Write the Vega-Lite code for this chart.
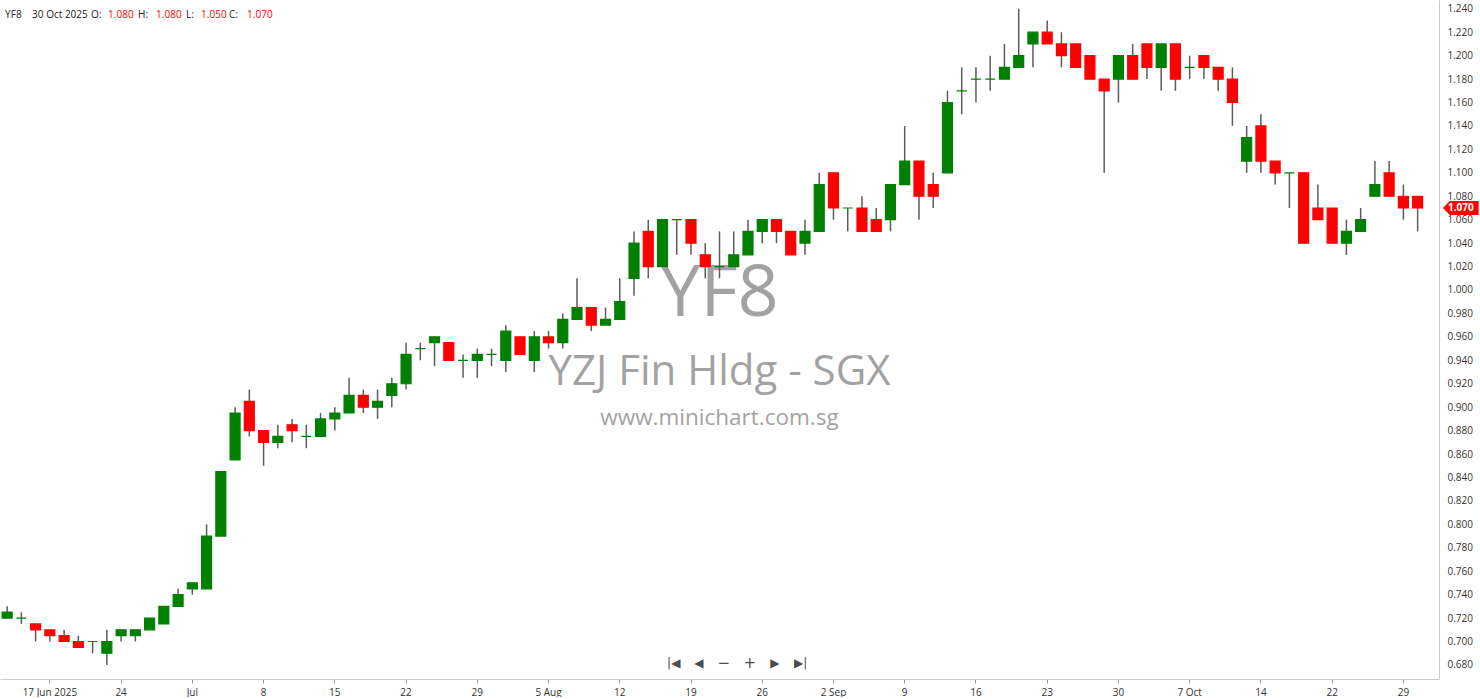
{
  "$schema": "https://vega.github.io/schema/vega-lite/v6.json",
  "width": 1439,
  "height": 679,
  "padding": 0,
  "background": "white",
  "config": {"view": {"stroke": null}, "font": "Open Sans", "axis": {"labelOverlap": false}, "axisY": {"labelOverlap": false, "labelSeparation": 0, "tickCount": 29}},
  "data": {"values": [
    {"d":"2025-06-12","o":0.72,"h":0.73,"l":0.72,"c":0.725},
    {"d":"2025-06-13","o":0.72,"h":0.725,"l":0.715,"c":0.72},
    {"d":"2025-06-16","o":0.715,"h":0.715,"l":0.70,"c":0.71},
    {"d":"2025-06-17","o":0.71,"h":0.71,"l":0.70,"c":0.705},
    {"d":"2025-06-18","o":0.705,"h":0.71,"l":0.70,"c":0.70},
    {"d":"2025-06-19","o":0.70,"h":0.705,"l":0.695,"c":0.695},
    {"d":"2025-06-20","o":0.70,"h":0.70,"l":0.69,"c":0.70},
    {"d":"2025-06-23","o":0.69,"h":0.71,"l":0.68,"c":0.70},
    {"d":"2025-06-24","o":0.705,"h":0.71,"l":0.70,"c":0.71},
    {"d":"2025-06-25","o":0.705,"h":0.71,"l":0.70,"c":0.71},
    {"d":"2025-06-26","o":0.71,"h":0.72,"l":0.71,"c":0.72},
    {"d":"2025-06-27","o":0.715,"h":0.73,"l":0.715,"c":0.73},
    {"d":"2025-06-30","o":0.73,"h":0.745,"l":0.73,"c":0.74},
    {"d":"2025-07-01","o":0.745,"h":0.75,"l":0.74,"c":0.75},
    {"d":"2025-07-02","o":0.745,"h":0.80,"l":0.745,"c":0.79},
    {"d":"2025-07-03","o":0.79,"h":0.845,"l":0.79,"c":0.845},
    {"d":"2025-07-04","o":0.855,"h":0.90,"l":0.855,"c":0.895},
    {"d":"2025-07-07","o":0.905,"h":0.915,"l":0.875,"c":0.88},
    {"d":"2025-07-08","o":0.88,"h":0.88,"l":0.85,"c":0.87},
    {"d":"2025-07-09","o":0.87,"h":0.885,"l":0.865,"c":0.875},
    {"d":"2025-07-10","o":0.885,"h":0.89,"l":0.87,"c":0.88},
    {"d":"2025-07-11","o":0.875,"h":0.885,"l":0.865,"c":0.875},
    {"d":"2025-07-14","o":0.875,"h":0.895,"l":0.875,"c":0.89},
    {"d":"2025-07-15","o":0.89,"h":0.90,"l":0.88,"c":0.895},
    {"d":"2025-07-16","o":0.895,"h":0.925,"l":0.895,"c":0.91},
    {"d":"2025-07-17","o":0.91,"h":0.915,"l":0.895,"c":0.90},
    {"d":"2025-07-18","o":0.90,"h":0.915,"l":0.89,"c":0.905},
    {"d":"2025-07-21","o":0.91,"h":0.925,"l":0.90,"c":0.92},
    {"d":"2025-07-22","o":0.92,"h":0.955,"l":0.915,"c":0.945},
    {"d":"2025-07-23","o":0.95,"h":0.955,"l":0.94,"c":0.95},
    {"d":"2025-07-24","o":0.955,"h":0.96,"l":0.935,"c":0.96},
    {"d":"2025-07-25","o":0.955,"h":0.955,"l":0.94,"c":0.94},
    {"d":"2025-07-28","o":0.94,"h":0.945,"l":0.925,"c":0.94},
    {"d":"2025-07-29","o":0.94,"h":0.95,"l":0.925,"c":0.945},
    {"d":"2025-07-30","o":0.945,"h":0.95,"l":0.935,"c":0.945},
    {"d":"2025-07-31","o":0.94,"h":0.97,"l":0.93,"c":0.965},
    {"d":"2025-08-01","o":0.96,"h":0.96,"l":0.945,"c":0.945},
    {"d":"2025-08-04","o":0.94,"h":0.965,"l":0.93,"c":0.96},
    {"d":"2025-08-05","o":0.96,"h":0.965,"l":0.95,"c":0.955},
    {"d":"2025-08-06","o":0.955,"h":0.98,"l":0.95,"c":0.975},
    {"d":"2025-08-07","o":0.975,"h":1.01,"l":0.975,"c":0.985},
    {"d":"2025-08-08","o":0.985,"h":0.985,"l":0.965,"c":0.97},
    {"d":"2025-08-11","o":0.97,"h":0.985,"l":0.97,"c":0.975},
    {"d":"2025-08-12","o":0.975,"h":1.01,"l":0.975,"c":0.99},
    {"d":"2025-08-13","o":1.01,"h":1.05,"l":0.995,"c":1.04},
    {"d":"2025-08-14","o":1.05,"h":1.06,"l":1.01,"c":1.02},
    {"d":"2025-08-15","o":1.02,"h":1.06,"l":1.02,"c":1.06},
    {"d":"2025-08-18","o":1.06,"h":1.06,"l":1.03,"c":1.06},
    {"d":"2025-08-19","o":1.06,"h":1.06,"l":1.03,"c":1.04},
    {"d":"2025-08-20","o":1.03,"h":1.04,"l":1.01,"c":1.02},
    {"d":"2025-08-21","o":1.02,"h":1.05,"l":1.01,"c":1.02},
    {"d":"2025-08-22","o":1.02,"h":1.05,"l":1.02,"c":1.03},
    {"d":"2025-08-25","o":1.03,"h":1.06,"l":1.03,"c":1.05},
    {"d":"2025-08-26","o":1.05,"h":1.06,"l":1.04,"c":1.06},
    {"d":"2025-08-27","o":1.06,"h":1.06,"l":1.04,"c":1.05},
    {"d":"2025-08-28","o":1.05,"h":1.05,"l":1.03,"c":1.03},
    {"d":"2025-08-29","o":1.04,"h":1.06,"l":1.03,"c":1.05},
    {"d":"2025-09-01","o":1.05,"h":1.10,"l":1.05,"c":1.09},
    {"d":"2025-09-02","o":1.10,"h":1.10,"l":1.06,"c":1.07},
    {"d":"2025-09-03","o":1.07,"h":1.07,"l":1.05,"c":1.07},
    {"d":"2025-09-04","o":1.07,"h":1.08,"l":1.05,"c":1.05},
    {"d":"2025-09-05","o":1.06,"h":1.07,"l":1.05,"c":1.05},
    {"d":"2025-09-08","o":1.06,"h":1.09,"l":1.05,"c":1.09},
    {"d":"2025-09-09","o":1.09,"h":1.14,"l":1.09,"c":1.11},
    {"d":"2025-09-10","o":1.11,"h":1.11,"l":1.06,"c":1.08},
    {"d":"2025-09-11","o":1.09,"h":1.10,"l":1.07,"c":1.08},
    {"d":"2025-09-12","o":1.10,"h":1.17,"l":1.10,"c":1.16},
    {"d":"2025-09-15","o":1.17,"h":1.19,"l":1.15,"c":1.17},
    {"d":"2025-09-16","o":1.18,"h":1.19,"l":1.16,"c":1.18},
    {"d":"2025-09-17","o":1.18,"h":1.20,"l":1.17,"c":1.18},
    {"d":"2025-09-18","o":1.18,"h":1.21,"l":1.18,"c":1.19},
    {"d":"2025-09-19","o":1.19,"h":1.24,"l":1.19,"c":1.20},
    {"d":"2025-09-22","o":1.21,"h":1.22,"l":1.19,"c":1.22},
    {"d":"2025-09-23","o":1.22,"h":1.23,"l":1.21,"c":1.21},
    {"d":"2025-09-24","o":1.21,"h":1.22,"l":1.19,"c":1.20},
    {"d":"2025-09-25","o":1.21,"h":1.21,"l":1.19,"c":1.19},
    {"d":"2025-09-26","o":1.20,"h":1.20,"l":1.18,"c":1.18},
    {"d":"2025-09-29","o":1.18,"h":1.18,"l":1.10,"c":1.17},
    {"d":"2025-09-30","o":1.18,"h":1.20,"l":1.16,"c":1.20},
    {"d":"2025-10-01","o":1.20,"h":1.21,"l":1.18,"c":1.18},
    {"d":"2025-10-02","o":1.21,"h":1.21,"l":1.18,"c":1.19},
    {"d":"2025-10-03","o":1.19,"h":1.21,"l":1.17,"c":1.21},
    {"d":"2025-10-06","o":1.21,"h":1.21,"l":1.17,"c":1.18},
    {"d":"2025-10-07","o":1.19,"h":1.20,"l":1.18,"c":1.19},
    {"d":"2025-10-08","o":1.20,"h":1.20,"l":1.18,"c":1.19},
    {"d":"2025-10-09","o":1.19,"h":1.19,"l":1.17,"c":1.18},
    {"d":"2025-10-10","o":1.18,"h":1.19,"l":1.14,"c":1.16},
    {"d":"2025-10-13","o":1.11,"h":1.14,"l":1.10,"c":1.13},
    {"d":"2025-10-14","o":1.14,"h":1.15,"l":1.10,"c":1.11},
    {"d":"2025-10-15","o":1.11,"h":1.11,"l":1.09,"c":1.10},
    {"d":"2025-10-16","o":1.10,"h":1.10,"l":1.07,"c":1.10},
    {"d":"2025-10-17","o":1.10,"h":1.10,"l":1.04,"c":1.04},
    {"d":"2025-10-21","o":1.07,"h":1.09,"l":1.06,"c":1.06},
    {"d":"2025-10-22","o":1.07,"h":1.07,"l":1.04,"c":1.04},
    {"d":"2025-10-23","o":1.04,"h":1.06,"l":1.03,"c":1.05},
    {"d":"2025-10-24","o":1.05,"h":1.07,"l":1.05,"c":1.06},
    {"d":"2025-10-27","o":1.08,"h":1.11,"l":1.08,"c":1.09},
    {"d":"2025-10-28","o":1.10,"h":1.11,"l":1.08,"c":1.08},
    {"d":"2025-10-29","o":1.08,"h":1.09,"l":1.06,"c":1.07},
    {"d":"2025-10-30","o":1.08,"h":1.08,"l":1.05,"c":1.07}
  ]},
  "layer": [
    {
      "data": {"values": [{}]},
      "mark": {"type": "text", "text": "YF8", "fontSize": 72, "color": "#999999", "opacity": 0.9, "align": "center", "baseline": "middle", "font": "Open Sans"},
      "encoding": {"x": {"datum": "2025-08-21", "type": "ordinal"}, "y": {"datum": 0.9967, "type": "quantitative"}}
    },
    {
      "data": {"values": [{}]},
      "mark": {"type": "text", "text": "YZJ Fin Hldg - SGX", "fontSize": 42, "color": "#999999", "opacity": 0.9, "align": "center", "baseline": "middle", "font": "Open Sans"},
      "encoding": {"x": {"datum": "2025-08-21", "type": "ordinal"}, "y": {"datum": 0.9302, "type": "quantitative"}}
    },
    {
      "data": {"values": [{}]},
      "mark": {"type": "text", "text": "www.minichart.com.sg", "fontSize": 22.5, "color": "#999999", "opacity": 0.9, "align": "center", "baseline": "middle", "font": "Open Sans"},
      "encoding": {"x": {"datum": "2025-08-21", "type": "ordinal"}, "y": {"datum": 0.8909, "type": "quantitative"}}
    },
    {
      "mark": {"type": "rule", "color": "#5c5c5c", "strokeWidth": 1.5},
      "encoding": {
        "x": {
          "field": "d", "type": "ordinal",
          "scale": {"domain": ["2025-06-12","2025-06-13","2025-06-16","2025-06-17","2025-06-18","2025-06-19","2025-06-20","2025-06-23","2025-06-24","2025-06-25","2025-06-26","2025-06-27","2025-06-30","2025-07-01","2025-07-02","2025-07-03","2025-07-04","2025-07-07","2025-07-08","2025-07-09","2025-07-10","2025-07-11","2025-07-14","2025-07-15","2025-07-16","2025-07-17","2025-07-18","2025-07-21","2025-07-22","2025-07-23","2025-07-24","2025-07-25","2025-07-28","2025-07-29","2025-07-30","2025-07-31","2025-08-01","2025-08-04","2025-08-05","2025-08-06","2025-08-07","2025-08-08","2025-08-11","2025-08-12","2025-08-13","2025-08-14","2025-08-15","2025-08-18","2025-08-19","2025-08-20","2025-08-21","2025-08-22","2025-08-25","2025-08-26","2025-08-27","2025-08-28","2025-08-29","2025-09-01","2025-09-02","2025-09-03","2025-09-04","2025-09-05","2025-09-08","2025-09-09","2025-09-10","2025-09-11","2025-09-12","2025-09-15","2025-09-16","2025-09-17","2025-09-18","2025-09-19","2025-09-22","2025-09-23","2025-09-24","2025-09-25","2025-09-26","2025-09-29","2025-09-30","2025-10-01","2025-10-02","2025-10-03","2025-10-06","2025-10-07","2025-10-08","2025-10-09","2025-10-10","2025-10-13","2025-10-14","2025-10-15","2025-10-16","2025-10-17","2025-10-21","2025-10-22","2025-10-23","2025-10-24","2025-10-27","2025-10-28","2025-10-29","2025-10-30","2025-10-31"], "paddingInner": 0.3, "paddingOuter": 0.15},
          "axis": {
            "title": null, "grid": false, "labelAngle": 0, "labelAlign": "center", "labelBaseline": "top", "labelFontSize": 10, "labelColor": "#333333", "labelFont": "Open Sans",
            "tickColor": "#999999", "tickSize": 4, "domainColor": "#cccccc", "labelPadding": 4, "labelOverlap": false, "labelBound": false,
            "values": ["2025-06-17","2025-06-24","2025-07-01","2025-07-08","2025-07-15","2025-07-22","2025-07-29","2025-08-05","2025-08-12","2025-08-19","2025-08-26","2025-09-02","2025-09-09","2025-09-16","2025-09-23","2025-09-30","2025-10-07","2025-10-14","2025-10-22","2025-10-29"],
            "labelExpr": "datum.value == '2025-06-17' ? '17 Jun 2025' : datum.value == '2025-07-01' ? 'Jul' : datum.value == '2025-08-05' ? '5 Aug' : datum.value == '2025-09-02' ? '2 Sep' : datum.value == '2025-10-07' ? '7 Oct' : '' + toNumber(substring(datum.value, 8, 10))"
          }
        },
        "y": {
          "field": "l", "type": "quantitative",
          "scale": {"domain": [0.668, 1.2475], "zero": false, "nice": false},
          "axis": {
            "title": null, "orient": "right", "grid": false, "ticks": false, "labelPadding": 8, "domainColor": "#cccccc",
            "labelFontSize": 10, "labelColor": "#333333", "labelFont": "Open Sans", "format": ".3f", "labelOverlap": false, "labelBound": false, "labelFlush": false, "tickCount": 29,
            "values": [0.68,0.70,0.72,0.74,0.76,0.78,0.80,0.82,0.84,0.86,0.88,0.90,0.92,0.94,0.96,0.98,1.00,1.02,1.04,1.06,1.08,1.10,1.12,1.14,1.16,1.18,1.20,1.22,1.24]
          }
        },
        "y2": {"field": "h"}
      }
    },
    {
      "mark": {"type": "bar", "strokeWidth": 1.2},
      "encoding": {
        "x": {"field": "d", "type": "ordinal"},
        "y": {"field": "o", "type": "quantitative"},
        "y2": {"field": "c"},
        "color": {"condition": {"test": "datum.c >= datum.o", "value": "#008000"}, "value": "#ff0000"},
        "stroke": {"condition": {"test": "datum.c >= datum.o", "value": "#008000"}, "value": "#ff0000"}
      }
    },
    {
      "data": {"values": [{}]},
      "mark": {"type": "text", "text": "YF8", "fontSize": 10, "color": "#222222", "align": "left", "baseline": "middle", "dx": -2},
      "encoding": {"x": {"datum": "2025-06-12", "type": "ordinal"}, "y": {"datum": 1.2347, "type": "quantitative"}}
    },
    {
      "data": {"values": [{}]},
      "mark": {"type": "text", "text": "30 Oct 2025", "fontSize": 10, "color": "#222222", "align": "left", "baseline": "middle", "dx": 25},
      "encoding": {"x": {"datum": "2025-06-12", "type": "ordinal"}, "y": {"datum": 1.2347, "type": "quantitative"}}
    },
    {
      "data": {"values": [{}]},
      "mark": {"type": "text", "text": "O:", "fontSize": 10, "color": "#222222", "align": "left", "baseline": "middle", "dx": 84},
      "encoding": {"x": {"datum": "2025-06-12", "type": "ordinal"}, "y": {"datum": 1.2347, "type": "quantitative"}}
    },
    {
      "data": {"values": [{}]},
      "mark": {"type": "text", "text": "1.080", "fontSize": 10, "color": "#ff0000", "align": "left", "baseline": "middle", "dx": 101},
      "encoding": {"x": {"datum": "2025-06-12", "type": "ordinal"}, "y": {"datum": 1.2347, "type": "quantitative"}}
    },
    {
      "data": {"values": [{}]},
      "mark": {"type": "text", "text": "H:", "fontSize": 10, "color": "#222222", "align": "left", "baseline": "middle", "dx": 131},
      "encoding": {"x": {"datum": "2025-06-12", "type": "ordinal"}, "y": {"datum": 1.2347, "type": "quantitative"}}
    },
    {
      "data": {"values": [{}]},
      "mark": {"type": "text", "text": "1.080", "fontSize": 10, "color": "#ff0000", "align": "left", "baseline": "middle", "dx": 149},
      "encoding": {"x": {"datum": "2025-06-12", "type": "ordinal"}, "y": {"datum": 1.2347, "type": "quantitative"}}
    },
    {
      "data": {"values": [{}]},
      "mark": {"type": "text", "text": "L:", "fontSize": 10, "color": "#222222", "align": "left", "baseline": "middle", "dx": 179},
      "encoding": {"x": {"datum": "2025-06-12", "type": "ordinal"}, "y": {"datum": 1.2347, "type": "quantitative"}}
    },
    {
      "data": {"values": [{}]},
      "mark": {"type": "text", "text": "1.050", "fontSize": 10, "color": "#ff0000", "align": "left", "baseline": "middle", "dx": 194},
      "encoding": {"x": {"datum": "2025-06-12", "type": "ordinal"}, "y": {"datum": 1.2347, "type": "quantitative"}}
    },
    {
      "data": {"values": [{}]},
      "mark": {"type": "text", "text": "C:", "fontSize": 10, "color": "#222222", "align": "left", "baseline": "middle", "dx": 222},
      "encoding": {"x": {"datum": "2025-06-12", "type": "ordinal"}, "y": {"datum": 1.2347, "type": "quantitative"}}
    },
    {
      "data": {"values": [{}]},
      "mark": {"type": "text", "text": "1.070", "fontSize": 10, "color": "#ff0000", "align": "left", "baseline": "middle", "dx": 240},
      "encoding": {"x": {"datum": "2025-06-12", "type": "ordinal"}, "y": {"datum": 1.2347, "type": "quantitative"}}
    },
    {
      "data": {"values": [{}]},
      "mark": {"type": "text", "text": "|◀", "fontSize": 12, "color": "#4d4d4d", "align": "center", "baseline": "middle", "font": "DejaVu Sans", "dx": -60},
      "encoding": {"x": {"datum": "2025-08-22", "type": "ordinal"}, "y": {"datum": 0.6819, "type": "quantitative"}}
    },
    {
      "data": {"values": [{}]},
      "mark": {"type": "text", "text": "◀", "fontSize": 12, "color": "#4d4d4d", "align": "center", "baseline": "middle", "font": "DejaVu Sans", "dx": -35},
      "encoding": {"x": {"datum": "2025-08-22", "type": "ordinal"}, "y": {"datum": 0.6819, "type": "quantitative"}}
    },
    {
      "data": {"values": [{}]},
      "mark": {"type": "text", "text": "−", "fontSize": 15, "color": "#4d4d4d", "align": "center", "baseline": "middle", "font": "DejaVu Sans", "dx": -10},
      "encoding": {"x": {"datum": "2025-08-22", "type": "ordinal"}, "y": {"datum": 0.6819, "type": "quantitative"}}
    },
    {
      "data": {"values": [{}]},
      "mark": {"type": "text", "text": "+", "fontSize": 15, "color": "#4d4d4d", "align": "center", "baseline": "middle", "font": "DejaVu Sans", "dx": 16},
      "encoding": {"x": {"datum": "2025-08-22", "type": "ordinal"}, "y": {"datum": 0.6819, "type": "quantitative"}}
    },
    {
      "data": {"values": [{}]},
      "mark": {"type": "text", "text": "▶", "fontSize": 12, "color": "#4d4d4d", "align": "center", "baseline": "middle", "font": "DejaVu Sans", "dx": 41},
      "encoding": {"x": {"datum": "2025-08-22", "type": "ordinal"}, "y": {"datum": 0.6819, "type": "quantitative"}}
    },
    {
      "data": {"values": [{}]},
      "mark": {"type": "text", "text": "▶|", "fontSize": 12, "color": "#4d4d4d", "align": "center", "baseline": "middle", "font": "DejaVu Sans", "dx": 67},
      "encoding": {"x": {"datum": "2025-08-22", "type": "ordinal"}, "y": {"datum": 0.6819, "type": "quantitative"}}
    },
    {
      "data": {"values": [{}]},
      "mark": {"type": "point", "filled": true, "color": "#ff0000", "opacity": 1, "size": 1156, "shape": "M0.65,0 L1.06,-0.41 L2.75,-0.41 L2.75,0.41 L1.06,0.41 Z"},
      "encoding": {"x": {"datum": "2025-10-31", "type": "ordinal"}, "y": {"datum": 1.07, "type": "quantitative"}}
    },
    {
      "data": {"values": [{}]},
      "mark": {"type": "text", "text": "1.070", "fontSize": 10, "fontWeight": "bold", "color": "#ffffff", "align": "center", "baseline": "middle", "dx": 29},
      "encoding": {"x": {"datum": "2025-10-31", "type": "ordinal"}, "y": {"datum": 1.07, "type": "quantitative"}}
    }
  ]
}
